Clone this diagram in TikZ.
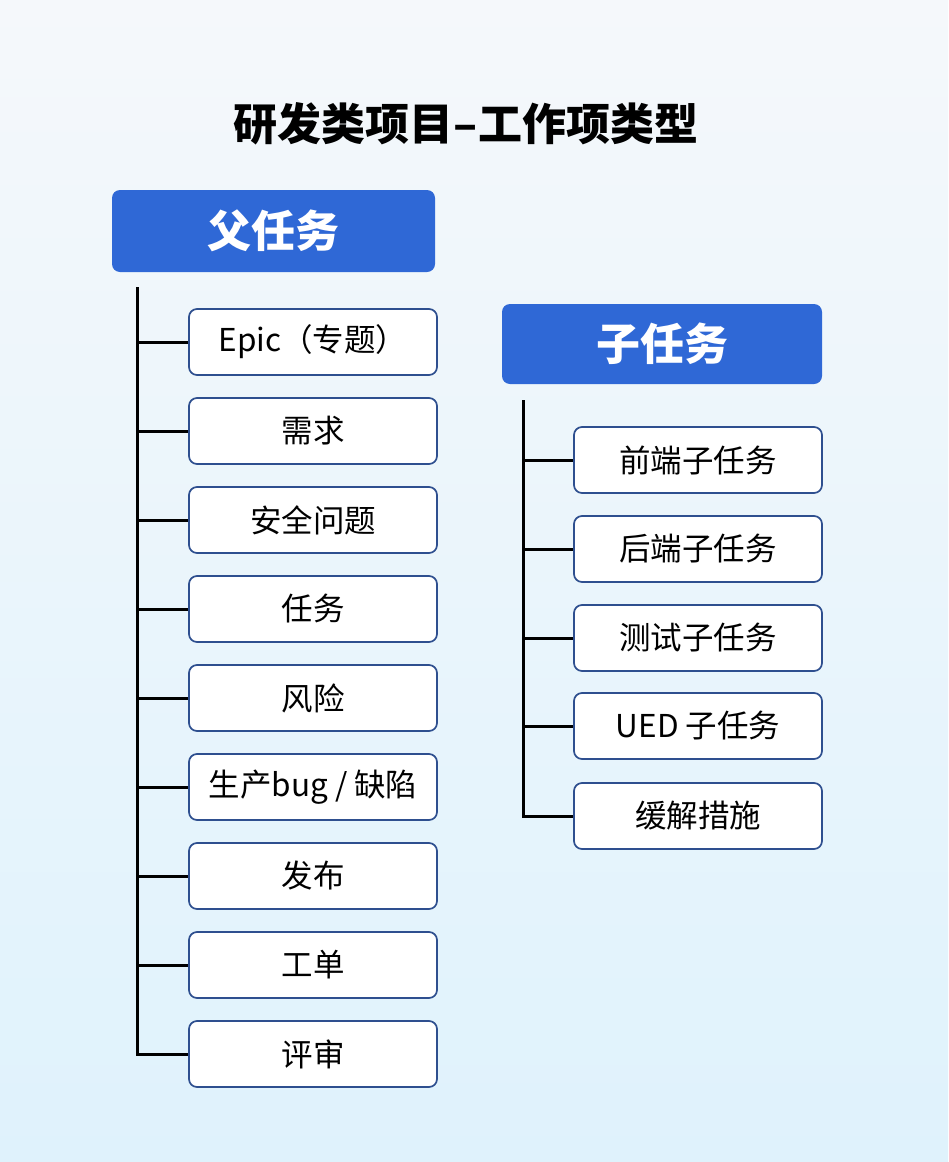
\documentclass[tikz,border=0pt]{standalone}
\usepackage{fontspec}
\setmainfont{Noto Sans CJK SC}
\definecolor{hdrblue}{HTML}{2F68D6}
\definecolor{boxedge}{HTML}{2E4F8F}
\definecolor{bgtop}{HTML}{F5F8FB}
\definecolor{bgbot}{HTML}{DFF2FC}
\tikzset{
  hdr/.style={draw=none, fill=hdrblue, rounded corners=8pt, text=white, font=\fontsize{44}{50}\selectfont\bfseries, inner sep=0pt},
  item/.style={draw=boxedge, line width=1.7pt, fill=white, rounded corners=8pt, minimum width=248pt, minimum height=66pt, inner sep=0pt, font=\fontsize{31.5}{36}\selectfont},
  tree/.style={line width=3pt, black}
}
\begin{document}
\begin{tikzpicture}[x=1pt,y=-1pt]
\shade[top color=bgtop, bottom color=bgbot] (0,0) rectangle (948,1162);
\useasboundingbox (0,0) rectangle (948,1162);
\node[font=\fontsize{44}{50}\selectfont\bfseries] (title) at (466,124) {研发类项目–工作项类型};
\node[hdr, minimum width=323pt, minimum height=82pt] (parent) at (273.5,231) {父任务};
\node[hdr, minimum width=320pt, minimum height=80pt] (child) at (662,344) {子任务};
\foreach \n/\y/\t in {p1/342/{Epic（专题）}, p2/431/需求, p3/520/安全问题, p4/609/任务, p5/698/风险, p6/787/{生产bug / 缺陷}, p7/876/发布, p8/965/工单, p9/1054/评审}{
  \node[item] (\n) at (313,\y) {\t};
}
\foreach \n/\y/\t in {c1/460/前端子任务, c2/549/后端子任务, c3/638/测试子任务, c4/726/{UED 子任务}, c5/816/缓解措施}{
  \node[item] (\n) at (698,\y) {\t};
}
\coordinate (ptop) at (137,287);
\coordinate (ctop) at (523,400);
\draw[tree] (ptop) |- (p9.west);
\foreach \n in {p1,p2,p3,p4,p5,p6,p7,p8}{ \draw[tree] (ptop |- \n.west) -- (\n.west); }
\draw[tree] (ctop) |- (c5.west);
\foreach \n in {c1,c2,c3,c4}{ \draw[tree] (ctop |- \n.west) -- (\n.west); }
\end{tikzpicture}
\end{document}
